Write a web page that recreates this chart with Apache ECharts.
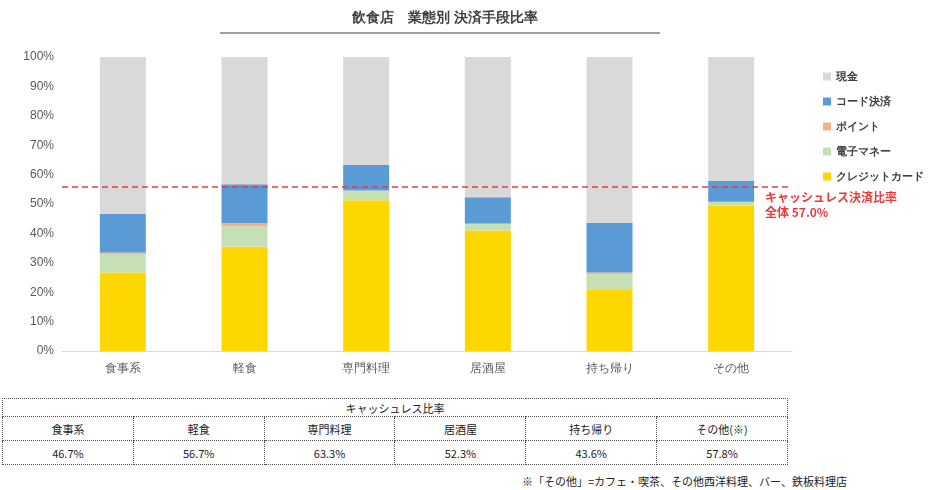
<!DOCTYPE html>
<html>
<head>
<meta charset="utf-8">
<script src="https://cdn.jsdelivr.net/npm/echarts@6/dist/echarts.min.js"></script>
<style>
  body { margin: 0; background: #fff; font-family: "Noto Sans CJK JP", sans-serif; }
  #chart { position: absolute; left: 0; top: 0; width: 937px; height: 390px; }
  #tbl { position: absolute; left: 2px; top: 398px; width: 786px; border-collapse: collapse; table-layout: fixed; font-size: 11px; color: #222; }
  #tbl td { border: 1px dotted #555; text-align: center; padding: 0; }
  #tbl tr.h td { height: 17px; }
  #tbl tr.r td { height: 23px; }
  #note { position: absolute; left: 522px; top: 473px; font-size: 11px; color: #222; }
</style>
</head>
<body>
<div id="chart"></div>
<table id="tbl"></table>
<div id="note">※「その他」=カフェ・喫茶、その他西洋料理、バー、鉄板料理店</div>
<script>
let categories = ['食事系', '軽食', '専門料理', '居酒屋', '持ち帰り', 'その他']
let tableLabels = ['食事系', '軽食', '専門料理', '居酒屋', '持ち帰り', 'その他(※)']
let credit = [26.7, 35.5, 51.3, 41.0, 21.0, 49.4]
let emoney = [6.2, 6.9, 3.2, 2.2, 5.1, 1.3]
let point = [0.6, 1.1, 0.1, 0.2, 0.6, 0.1]
let code = [13.2, 13.2, 8.7, 8.9, 16.9, 7.0]
let cash = [53.3, 43.3, 36.7, 47.7, 56.4, 42.2]
let cashless = ['46.7%', '56.7%', '63.3%', '52.3%', '43.6%', '57.8%']
let lineValue = 56
let lineLabel = 'キャッシュレス決済比率\n全体 57.0%'

// 表
let tbl = document.getElementById('tbl')
tbl.innerHTML =
    '<tr class="h"><td colspan="6">キャッシュレス比率</td></tr>' +
    '<tr class="r">' + tableLabels.map(t => '<td>' + t + '</td>').join('') + '</tr>' +
    '<tr class="r">' + cashless.map(t => '<td>' + t + '</td>').join('') + '</tr>'

function bar (name, data, color) {
    return { name, type: 'bar', stack: 'all', data, barWidth: 46, itemStyle: { color } }
}

let series = [
    bar('クレジットカード', credit, '#ffd700'),
    bar('電子マネー', emoney, '#c5e0b4'),
    bar('ポイント', point, '#f4b183'),
    bar('コード決済', code, '#5b9bd5'),
    bar('現金', cash, '#d9d9d9')
]
series[4].markLine = {
    symbol: 'none',
    silent: true,
    lineStyle: { color: '#e83b3b', type: [6, 4], width: 1.5 },
    label: { show: false },
    data: [{ yAxis: lineValue }]
}

let option = {
    animation: false,
    title: {
        text: '飲食店　業態別 決済手段比率',
        left: 440, top: 6, textAlign: 'center',
        textStyle: { fontSize: 14, fontWeight: 'bold', color: '#404040' }
    },
    legend: {
        orient: 'vertical', left: 818, top: 66, itemGap: 14,
        itemWidth: 8, itemHeight: 8, icon: 'rect',
        data: ['現金', 'コード決済', 'ポイント', '電子マネー', 'クレジットカード'],
        textStyle: { fontSize: 11, color: '#404040', fontWeight: 'bold' }
    },
    grid: { left: 62, right: 145, top: 57, bottom: 39 },
    xAxis: {
        type: 'category', data: categories,
        axisTick: { show: false },
        axisLine: { lineStyle: { color: '#d9d9d9' } },
        axisLabel: { color: '#595959', fontSize: 12, margin: 12 }
    },
    yAxis: {
        type: 'value', min: 0, max: 100, interval: 10,
        splitLine: { show: false },
        axisLabel: { formatter: '{value}%', color: '#595959', fontSize: 12 }
    },
    graphic: [
        { type: 'line', shape: { x1: 220, y1: 33, x2: 660, y2: 33 }, style: { stroke: '#404040', lineWidth: 1 } },
        { type: 'text', left: 765, top: 190, style: { text: lineLabel, fill: '#e83b3b', font: 'bold 12px "Noto Sans CJK JP"', lineHeight: 15 } }
    ],
    series
}

let chart = echarts.init(document.getElementById('chart'))
chart.setOption(option)
</script>
</body>
</html>
